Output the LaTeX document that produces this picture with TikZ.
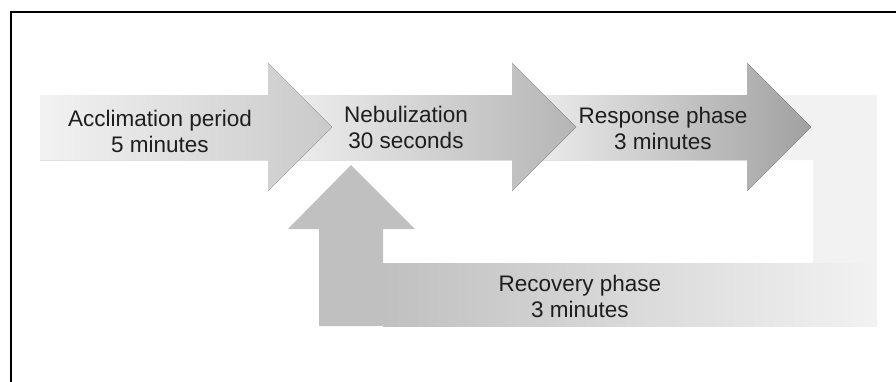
\documentclass[tikz,border=0pt]{standalone}
\usepackage{fontspec}
\setmainfont{Liberation Sans}
\definecolor{txt}{HTML}{1E1E1E}
\definecolor{loopL}{HTML}{F2F2F2}
\definecolor{upc}{HTML}{C0C0C0}
\begin{document}
\begin{tikzpicture}[x=1pt,y=-1pt,
  lbl/.style={align=center,font=\fontsize{22.5}{26}\selectfont,text=txt,inner sep=0pt},
  frame/.style={draw=black,line width=2.5pt},
  arrA/.style={left color=black!5,right color=black!21},
  arrB/.style={left color=black!7,right color=black!29},
  arrC/.style={left color=black!5,right color=black!37},
  barshade/.style={left color=upc,right color=loopL}]
\clip (0,0) rectangle (896,381);
\fill[white] (0,0) rectangle (896,381);
% frame
\draw[frame] (11,12) rectangle (899,383);
% loop back: light L part
\fill[loopL] (747,95) -- (877,95) -- (877,263) -- (813,263) -- (813,160) -- (747,160) -- cycle;
% recovery bar
\fill[barshade] (383,263) rectangle (877,326);
% up arrow
\fill[upc] (319,326) -- (319,229) -- (288,229) -- (351,165) -- (415,229) -- (383,229) -- (383,326) -- cycle;
% arrow 3 (response)
\fill[arrC] (512,95) -- (747,95) -- (747,63) -- (811,127) -- (747,191) -- (747,160) -- (512,160) -- cycle;
% arrow 2 (nebulization)
\fill[arrB] (290,95) -- (512,95) -- (512,63) -- (576,127) -- (512,191) -- (512,160) -- (290,160) -- cycle;
% arrow 1 (acclimation)
\fill[arrA] (40,95) -- (268,95) -- (268,63) -- (332,127) -- (268,191) -- (268,160) -- (40,160) -- cycle;
% labels
\node[lbl] (acc) at (160,133.8) {\strut Acclimation period\\\strut 5 minutes};
\node[lbl] (neb) at (406,129.8) {\strut Nebulization\\\strut 30 seconds};
\node[lbl] (resp) at (663,130.8) {\strut Response phase\\\strut 3 minutes};
\node[lbl] (rec) at (580,298.8) {\strut Recovery phase\\\strut 3 minutes};
\end{tikzpicture}
\end{document}
